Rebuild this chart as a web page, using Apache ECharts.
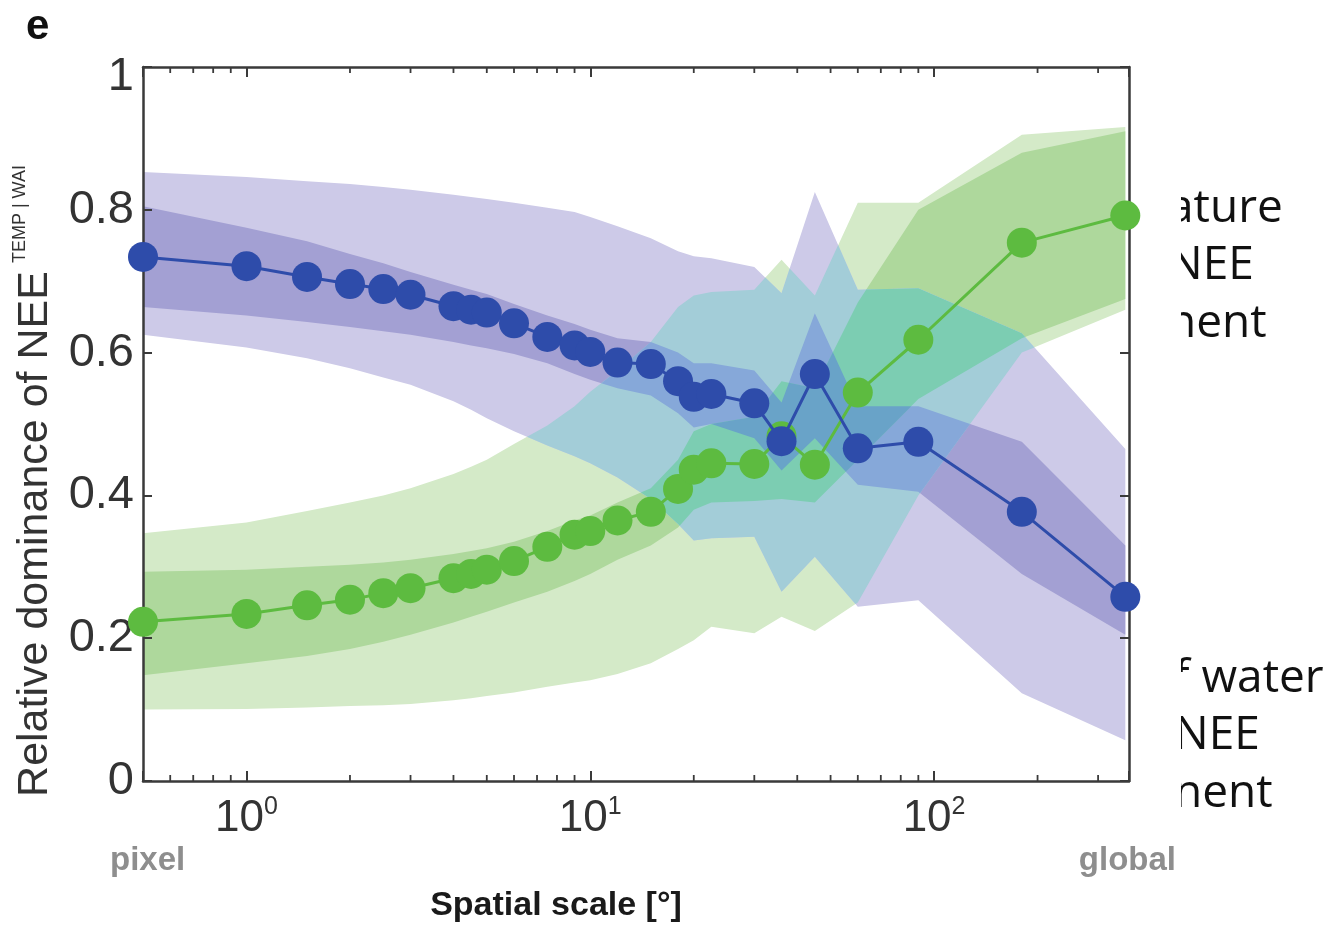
<!DOCTYPE html>
<html>
<head>
<meta charset="utf-8">
<script src="https://cdn.jsdelivr.net/npm/echarts@6/dist/echarts.min.js"></script>
<style>
  html, body { margin: 0; padding: 0; background: #ffffff; }
  #chart { width: 1328px; height: 927px; }
</style>
</head>
<body>
<div id="chart"></div>
<script>
// Spatial aggregation scales (degrees)
const scales = [0.5, 1, 1.5, 2, 2.5, 3, 4, 4.5, 5, 6, 7.5, 9, 10, 12, 15, 18, 20, 22.5, 30, 36, 45, 60, 90, 180, 360];

// Blue series: median and two uncertainty ranges
const blueMid     = [0.734, 0.721, 0.706, 0.696, 0.689, 0.681, 0.665, 0.660, 0.656, 0.641, 0.622, 0.610, 0.601, 0.586, 0.584, 0.560, 0.538, 0.542, 0.529, 0.476, 0.570, 0.466, 0.475, 0.377, 0.258];
const blueOuterHi = [0.853, 0.846, 0.840, 0.836, 0.832, 0.828, 0.821, 0.818, 0.815, 0.810, 0.803, 0.797, 0.790, 0.777, 0.760, 0.742, 0.735, 0.732, 0.720, 0.683, 0.825, 0.688, 0.690, 0.627, 0.465];
const blueOuterLo = [0.625, 0.607, 0.592, 0.578, 0.565, 0.555, 0.532, 0.520, 0.508, 0.490, 0.470, 0.455, 0.445, 0.425, 0.395, 0.360, 0.337, 0.340, 0.342, 0.265, 0.314, 0.244, 0.253, 0.123, 0.057];
const blueInnerHi = [0.805, 0.775, 0.756, 0.738, 0.725, 0.713, 0.695, 0.688, 0.682, 0.668, 0.652, 0.640, 0.632, 0.620, 0.615, 0.600, 0.585, 0.585, 0.575, 0.530, 0.655, 0.525, 0.525, 0.475, 0.330];
const blueInnerLo = [0.664, 0.652, 0.643, 0.636, 0.630, 0.625, 0.615, 0.610, 0.606, 0.598, 0.585, 0.570, 0.562, 0.550, 0.540, 0.515, 0.495, 0.500, 0.480, 0.435, 0.480, 0.415, 0.405, 0.290, 0.205];

// Green series: median and two uncertainty ranges
const greenMid     = [0.223, 0.234, 0.246, 0.254, 0.263, 0.270, 0.284, 0.290, 0.296, 0.308, 0.328, 0.345, 0.350, 0.365, 0.377, 0.409, 0.436, 0.445, 0.444, 0.483, 0.443, 0.544, 0.618, 0.754, 0.792];
const greenOuterHi = [0.347, 0.362, 0.378, 0.390, 0.400, 0.410, 0.430, 0.440, 0.450, 0.472, 0.498, 0.525, 0.545, 0.575, 0.615, 0.664, 0.680, 0.685, 0.688, 0.730, 0.680, 0.810, 0.810, 0.905, 0.916];
const greenOuterLo = [0.100, 0.101, 0.103, 0.105, 0.106, 0.108, 0.113, 0.116, 0.119, 0.124, 0.132, 0.138, 0.141, 0.150, 0.165, 0.185, 0.197, 0.216, 0.207, 0.230, 0.210, 0.250, 0.400, 0.600, 0.660];
const greenInnerHi = [0.293, 0.296, 0.300, 0.303, 0.306, 0.310, 0.318, 0.322, 0.326, 0.335, 0.350, 0.365, 0.372, 0.390, 0.410, 0.450, 0.490, 0.500, 0.510, 0.560, 0.550, 0.670, 0.800, 0.880, 0.910];
const greenInnerLo = [0.148, 0.165, 0.175, 0.185, 0.195, 0.205, 0.222, 0.230, 0.237, 0.250, 0.265, 0.280, 0.290, 0.310, 0.330, 0.355, 0.380, 0.390, 0.392, 0.395, 0.390, 0.450, 0.535, 0.620, 0.675];

// Minor tick positions on the logarithmic axis
const minorTicks = [0.6, 0.7, 0.8, 0.9, 2, 3, 4, 5, 6, 7, 8, 9, 20, 30, 40, 50, 60, 70, 80, 90, 200, 300];

// Fill colours: single bands and their overlaps
const COL = {
  blueOuter: '#cdcae8', blueInner: '#a3a0d3',
  greenOuter: '#d4eac8', greenInner: '#aed89c',
  bOgO: '#a3cdd8', bIgO: '#86a8d9', bOgI: '#7ccdb2', bIgI: '#69a3c8'
};
const BLUE = '#2e4caa';
const GREEN = '#5dbb40';

// Band polygon from lower/upper arrays (data coordinates)
function bandPoly(lo, hi) {
  const top = scales.map((x, i) => [x, hi[i]]);
  const bot = scales.map((x, i) => [x, lo[i]]).reverse();
  return top.concat(bot);
}

// Intersection of two bands, evaluated piecewise in log-x space
function overlapPoly(aLo, aHi, bLo, bHi) {
  const top = [], bot = [];
  const n = scales.length;
  const fns = [aLo, aHi, bLo, bHi];
  const pairs = [[0, 2], [1, 3], [1, 2], [3, 0]];
  for (let i = 0; i < n - 1; i++) {
    const u0 = Math.log10(scales[i]), u1 = Math.log10(scales[i + 1]);
    const ts = [0];
    for (const [p, q] of pairs) {
      const d0 = fns[p][i] - fns[q][i];
      const d1 = fns[p][i + 1] - fns[q][i + 1];
      if ((d0 < 0 && d1 > 0) || (d0 > 0 && d1 < 0)) ts.push(d0 / (d0 - d1));
    }
    if (i === n - 2) ts.push(1);
    ts.sort((a, b) => a - b);
    for (const t of ts) {
      const val = k => fns[k][i] + t * (fns[k][i + 1] - fns[k][i]);
      const lo = Math.max(val(0), val(2));
      const hi = Math.max(Math.min(val(1), val(3)), lo);
      const x = Math.pow(10, u0 + t * (u1 - u0));
      top.push([x, hi]);
      bot.push([x, lo]);
    }
  }
  return top.concat(bot.reverse());
}

// Painting order: single bands, then overlaps on top
const layers = [
  { pts: bandPoly(greenOuterLo, greenOuterHi), color: COL.greenOuter },
  { pts: bandPoly(greenInnerLo, greenInnerHi), color: COL.greenInner },
  { pts: bandPoly(blueOuterLo, blueOuterHi), color: COL.blueOuter },
  { pts: bandPoly(blueInnerLo, blueInnerHi), color: COL.blueInner },
  { pts: overlapPoly(blueOuterLo, blueOuterHi, greenOuterLo, greenOuterHi), color: COL.bOgO },
  { pts: overlapPoly(blueInnerLo, blueInnerHi, greenOuterLo, greenOuterHi), color: COL.bIgO },
  { pts: overlapPoly(blueOuterLo, blueOuterHi, greenInnerLo, greenInnerHi), color: COL.bOgI },
  { pts: overlapPoly(blueInnerLo, blueInnerHi, greenInnerLo, greenInnerHi), color: COL.bIgI }
];

const FONT = 'Liberation Sans';
const AX = '#3a3a3a';

const chart = echarts.init(document.getElementById('chart'), null, { renderer: 'canvas' });

const isPow10 = v => Math.abs(Math.log10(v) - Math.round(Math.log10(v))) < 1e-6;

const xCommon = {
  type: 'log', logBase: 10, min: 0.5, max: 369, gridIndex: 0, z: 10,
  splitLine: { show: false }, minorTick: { show: false },
  axisLine: { show: true, onZero: false, lineStyle: { color: AX, width: 2.5 } },
  axisTick: { show: true, inside: true, length: 10, lineStyle: { color: AX, width: 2 } }
};

const yCommon = {
  type: 'value', min: 0, max: 1, interval: 0.2, gridIndex: 0, z: 10,
  splitLine: { show: false },
  axisLine: { show: true, onZero: false, lineStyle: { color: AX, width: 2.5 } },
  axisTick: { show: true, inside: true, length: 9, lineStyle: { color: AX, width: 2 } }
};

const option = {
  animation: false,
  grid: { left: 143, top: 67, right: 199, bottom: 146, containLabel: false },
  xAxis: [
    Object.assign({}, xCommon, {
      position: 'bottom',
      axisLabel: {
        margin: 14,
        formatter: v => isPow10(v) ? '{b|10}{s|' + Math.round(Math.log10(v)) + '}' : '',
        rich: {
          b: { fontFamily: FONT, fontSize: 44, color: '#333', lineHeight: 48 },
          s: { fontFamily: FONT, fontSize: 25, color: '#333', lineHeight: 26, verticalAlign: 'top' }
        }
      }
    }),
    Object.assign({}, xCommon, { position: 'top', axisLabel: { show: false } })
  ],
  yAxis: [
    Object.assign({}, yCommon, {
      position: 'left',
      axisLabel: {
        margin: 9, fontFamily: FONT, fontSize: 47, color: '#333',
        formatter: v => v === 1 ? '{t|1}' : String(v),
        rich: { t: { fontFamily: FONT, fontSize: 47, color: '#333', padding: [20, 0, 0, 0] } }
      }
    }),
    Object.assign({}, yCommon, { position: 'right', axisLabel: { show: false } })
  ],
  series: [
    {
      type: 'custom', name: 'bands', coordinateSystem: 'cartesian2d',
      xAxisIndex: 0, yAxisIndex: 0, silent: true, z: 1,
      data: layers.map((l, i) => [1, 0.5, i]),
      encode: { x: 0, y: 1 },
      renderItem: (params, api) => {
        const layer = layers[params.dataIndex];
        return {
          type: 'polygon', z2: params.dataIndex,
          shape: { points: layer.pts.map(p => api.coord(p)) },
          style: { fill: layer.color }
        };
      }
    },
    {
      type: 'custom', name: 'minor ticks', coordinateSystem: 'cartesian2d',
      xAxisIndex: 0, yAxisIndex: 0, silent: true, z: 11,
      data: minorTicks.map(v => [v, 0]),
      encode: { x: 0, y: 1 },
      renderItem: (params, api) => {
        const v = api.value(0);
        const b = api.coord([v, 0]);
        const t = api.coord([v, 1]);
        const st = { stroke: AX, lineWidth: 1.8 };
        return {
          type: 'group',
          children: [
            { type: 'line', shape: { x1: b[0], y1: b[1], x2: b[0], y2: b[1] - 6 }, style: st },
            { type: 'line', shape: { x1: t[0], y1: t[1], x2: t[0], y2: t[1] + 6 }, style: st }
          ]
        };
      }
    },
    {
      type: 'line', name: 'green', z: 12, clip: false,
      data: scales.map((x, i) => [x, greenMid[i]]),
      symbol: 'circle', symbolSize: 30,
      itemStyle: { color: GREEN },
      lineStyle: { color: GREEN, width: 3 }
    },
    {
      type: 'line', name: 'blue', z: 13, clip: false,
      data: scales.map((x, i) => [x, blueMid[i]]),
      symbol: 'circle', symbolSize: 30,
      itemStyle: { color: BLUE },
      lineStyle: { color: BLUE, width: 3 }
    }
  ],
  graphic: [
    { type: 'text', x: 26, y: 27, z: 20,
      style: { text: 'e', fontFamily: FONT, fontWeight: 'bold', fontSize: 42, fill: '#111',
               align: 'left', verticalAlign: 'middle', textAlign: 'left', textVerticalAlign: 'middle' } },
    { type: 'text', x: 35, y: 481, rotation: Math.PI / 2, z: 20,
      style: {
        text: '{m|Relative dominance of NEE}{s|TEMP | WAI}',
        align: 'center', verticalAlign: 'middle', textAlign: 'center', textVerticalAlign: 'middle',
        rich: {
          m: { fontFamily: FONT, fontSize: 43, fill: '#333', color: '#333', lineHeight: 48 },
          s: { fontFamily: FONT, fontSize: 18, fill: '#333', color: '#333', lineHeight: 30, verticalAlign: 'top', padding: [0, 0, 0, 8] }
        }
      } },
    { type: 'text', x: 110, y: 861, z: 20,
      style: { text: 'pixel', fontFamily: FONT, fontWeight: 'bold', fontSize: 33, fill: '#8e8e8e',
               align: 'left', verticalAlign: 'middle', textAlign: 'left', textVerticalAlign: 'middle' } },
    { type: 'text', x: 1176, y: 861, z: 20,
      style: { text: 'global', fontFamily: FONT, fontWeight: 'bold', fontSize: 33, fill: '#8e8e8e',
               align: 'right', verticalAlign: 'middle', textAlign: 'right', textVerticalAlign: 'middle' } },
    { type: 'text', x: 556, y: 906, z: 20,
      style: { text: 'Spatial scale [°]', fontFamily: FONT, fontWeight: 'bold', fontSize: 34, fill: '#1a1a1a',
               align: 'center', verticalAlign: 'middle', textAlign: 'center', textVerticalAlign: 'middle' } },
    // side annotation text, its left edge trimmed by the white strips below
    { type: 'text', x: 1168, y: 180, z: 20,
      style: { text: 'ature\nNEE\nnent', fontFamily: 'Open Sans', fontSize: 46, fill: '#111', lineHeight: 57.5,
               align: 'left', verticalAlign: 'top', textAlign: 'left', textVerticalAlign: 'top' } },
    { type: 'text', x: 1174, y: 650, z: 20,
      style: { text: 'f water\nNEE\nnent', fontFamily: 'Open Sans', fontSize: 46, fill: '#111', lineHeight: 57.5,
               align: 'left', verticalAlign: 'top', textAlign: 'left', textVerticalAlign: 'top' } },
    { type: 'rect', z: 21, shape: { x: 1143, y: 170, width: 38, height: 190 }, style: { fill: '#ffffff' } },
    { type: 'rect', z: 21, shape: { x: 1143, y: 640, width: 38, height: 40 }, style: { fill: '#ffffff' } },
    { type: 'rect', z: 21, shape: { x: 1143, y: 672, width: 43, height: 30 }, style: { fill: '#ffffff' } },
    { type: 'rect', z: 21, shape: { x: 1143, y: 700, width: 38, height: 130 }, style: { fill: '#ffffff' } }
  ]
};

chart.setOption(option);
</script>
</body>
</html>
